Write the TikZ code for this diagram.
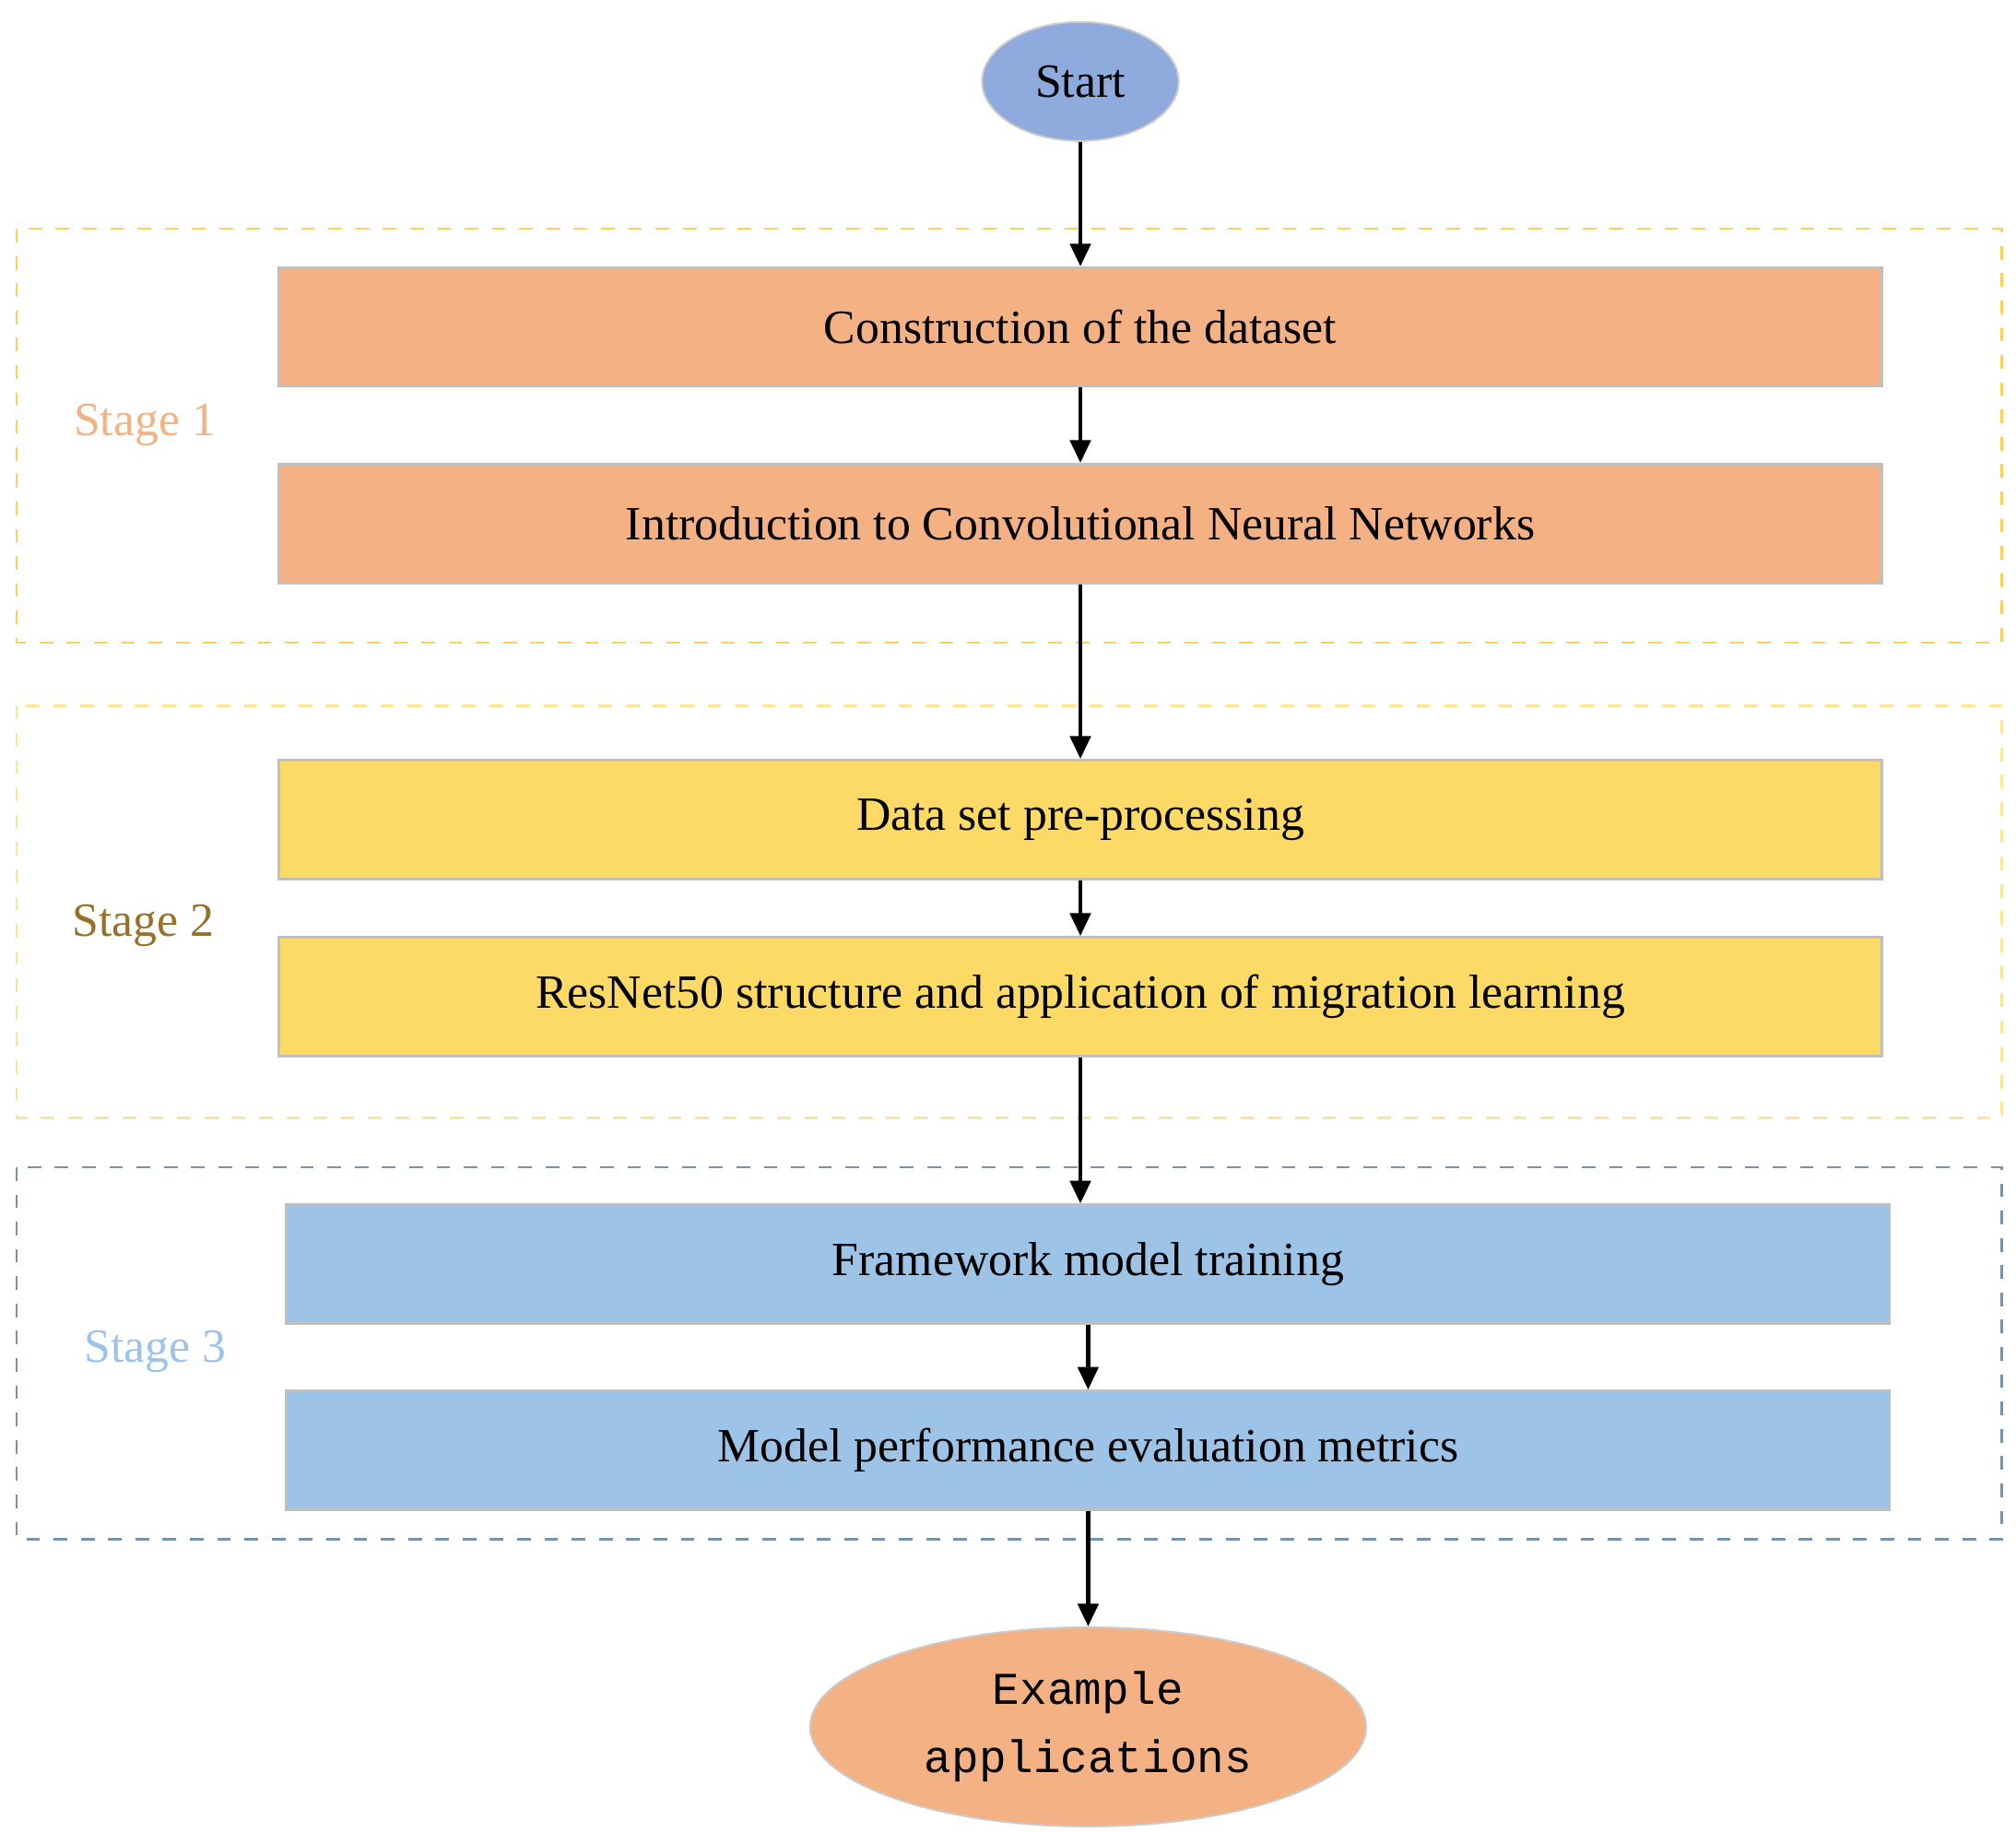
\documentclass[tikz,border=0pt]{standalone}
\usepackage{fontspec}
\setmainfont{Liberation Serif}
\newfontfamily\monof{Liberation Mono}
\usetikzlibrary{arrows.meta,shapes.geometric}
\definecolor{org}{HTML}{F4B183}
\definecolor{yel}{HTML}{FDD966}
\definecolor{blu}{HTML}{9DC3E6}
\definecolor{stb}{HTML}{8FAADC}
\begin{document}
\begin{tikzpicture}[x=0.01cm,y=-0.01cm,
 box/.style={draw=black!25,line width=0.5pt,minimum width=12.4cm,minimum height=0.92cm,font=\fontsize{10.5}{12}\selectfont},
 stage/.style={dashed,line width=0.5pt},
 lab/.style={font=\fontsize{10.5}{12}\selectfont},
 arr/.style={-{Triangle[length=5pt,width=4.5pt]},line width=0.9pt}]
\useasboundingbox (0,0) rectangle (1560,1417);
\draw[stage,draw=yel!90!orange] (13,177) rectangle (1549,497);
\draw[stage,draw=yel!70] (13,546) rectangle (1549,865);
\draw[stage,draw=black!25!blu] (13,903) rectangle (1549,1191);
\node[lab,text=org] at (112,329) {Stage 1};
\node[lab,text=yel!50!black!80!orange] at (111,716) {Stage 2};
\node[lab,text=blu] at (120,1046) {Stage 3};
\node[ellipse,fill=stb,draw=black!20,minimum width=1.52cm,minimum height=0.92cm,lab] (s) at (836,63) {Start};
\node[box,fill=org] (b1) at (836,253) {Construction of the dataset};
\node[box,fill=org] (b2) at (836,405) {Introduction to Convolutional Neural Networks};
\node[box,fill=yel] (b3) at (836,634) {Data set pre-processing};
\node[box,fill=yel] (b4) at (836,771) {ResNet50 structure and application of migration learning};
\node[box,fill=blu] (b5) at (842,978) {Framework model training};
\node[box,fill=blu] (b6) at (842,1122) {Model performance evaluation metrics};
\node[ellipse,fill=org,draw=black!20,minimum width=4.3cm,minimum height=1.52cm,align=center,font=\monof\fontsize{10}{15}\selectfont] (e) at (842,1336) {Example\\applications};
\draw[arr] (s) -- (b1);
\draw[arr] (b1) -- (b2);
\draw[arr] (b2) -- (b3);
\draw[arr] (b3) -- (b4);
\draw[arr] (b4.south) -- (b4.south|-b5.north);
\draw[arr] (b5) -- (b6);
\draw[arr] (b6) -- (e);
\end{tikzpicture}
\end{document}
